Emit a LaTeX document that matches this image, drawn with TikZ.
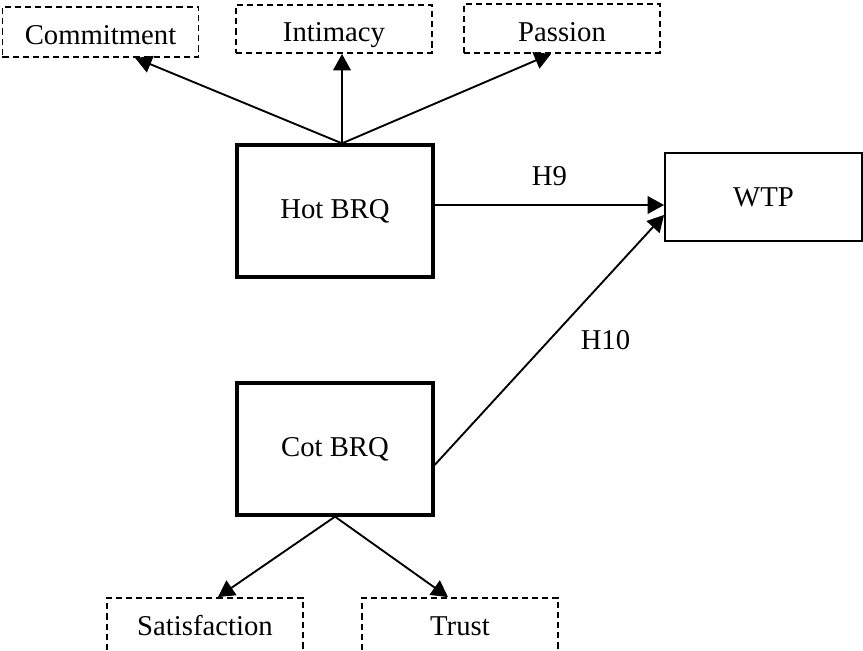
\documentclass[tikz,border=0pt]{standalone}
\usepackage{fontspec}
\setmainfont{Liberation Serif}
\usepackage{tikz}
\usetikzlibrary{arrows.meta}

\tikzset{
    konstrukt/.style={draw=black, line width=1.4pt, minimum width=2.94cm, minimum height=1.98cm},
    ziel/.style={draw=black, line width=0.8pt, minimum width=2.955cm, minimum height=1.32cm},
    dimension/.style={draw=black, line width=0.8pt, dash pattern=on 2.6pt off 1.7pt, minimum width=2.94cm, minimum height=0.72cm},
    oben/.style={text height=1.1em, text depth=0pt, inner ysep=2pt},
    pfeil/.style={-{Triangle[length=7pt, width=7.5pt]}, line width=0.8pt, color=black},
}

\begin{document}
\begin{tikzpicture}[x=0.015cm, y=-0.015cm, font=\fontsize{12.25}{14}\selectfont]
    \useasboundingbox (0,0) rectangle (863,650);

    % Kaesten.
    \node[konstrukt] (hot) at (335,211) {Hot BRQ};
    \node[konstrukt] (cot) at (335,449) {Cot BRQ};
    \node[ziel]      (wtp) at (763.5,197) {WTP};

    \node[dimension, oben, minimum height=0.75cm]  (com)  at (100.5,32) {Commitment};
    \node[dimension, oben]                         (inti) at (334,29)   {Intimacy};
    \node[dimension, oben, minimum height=0.735cm] (pass) at (562,28.5) {Passion};
    \node[dimension, minimum height=0.84cm]  (sat)   at (205,626)  {Satisfaction};
    \node[dimension, minimum height=0.84cm]  (trust) at (460,626)  {Trust};

    % Pfeile.
    \coordinate (hottop) at ([xshift=0.105cm]hot.north);
    \draw[pfeil] (hottop) -- ([xshift=0.52cm]com.south);
    \draw[pfeil] (hottop) -- (hottop |- inti.south);
    \draw[pfeil] (hottop) -- ([xshift=-0.165cm]pass.south);

    \draw[pfeil] (cot.south) -- ([xshift=0.195cm]sat.north);
    \draw[pfeil] (cot.south) -- ([xshift=-0.18cm]trust.north);

    \coordinate (h9) at ([yshift=0.09cm]hot.east);
    \draw[pfeil] (h9) -- (h9 -| wtp.west) node[midway, above=0.15cm] {H9};
    \draw[pfeil] ([yshift=-0.24cm]cot.east) -- ([yshift=-0.27cm]wtp.west)
        node[midway, right=0.34cm] {H10};
\end{tikzpicture}
\end{document}
